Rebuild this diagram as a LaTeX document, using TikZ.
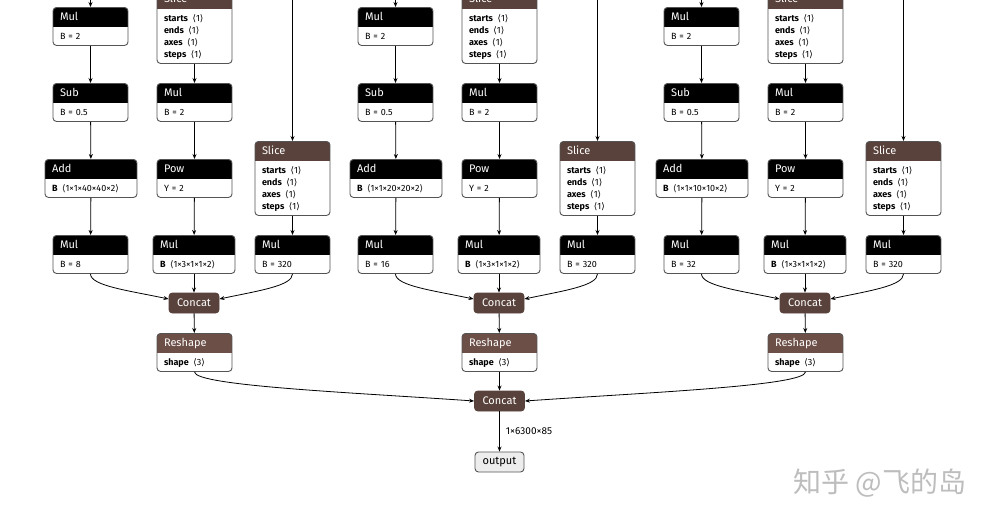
\documentclass[tikz,border=0pt]{standalone}
\usepackage{fontspec}
\setmainfont{Fira Sans}
\newfontfamily\symfont{DejaVu Sans}
\newfontfamily\cjkfont{Noto Sans CJK SC}
\usetikzlibrary{arrows.meta,positioning}
\definecolor{MyTensorBrown}{rgb}{0.349, 0.259, 0.231}
\definecolor{MyShapeBrown}{rgb}{0.424, 0.310, 0.278}
\definecolor{MyBorderGray}{rgb}{0.33, 0.33, 0.33}
\definecolor{MyOutputGray}{rgb}{0.93, 0.93, 0.93}
\definecolor{MyMarkGray}{rgb}{0.74, 0.74, 0.74}
\newcommand{\shp}[1]{\hspace{1.5pt}{\symfont ⟨}#1{\symfont ⟩}}
\newcommand{\hdr}[1]{\rule{0pt}{13pt}{\fontsize{11}{13}\selectfont\color{white}#1}\\[7pt]}
\newcommand{\lastln}{\rule[-6pt]{0pt}{6pt}}

\begin{document}
\begin{tikzpicture}[x=1pt, y=1pt, >={Stealth[length=5pt, width=4pt]},
		op/.style={draw=MyBorderGray, line width=0.9pt, rounded corners=3.5pt, fill=white,
			anchor=north, align=left, text width=61pt, inner xsep=7pt, inner ysep=0pt,
			font=\fontsize{9}{12}\selectfont,
			path picture={\fill[#1, sharp corners] (path picture bounding box.north west)
				rectangle ([yshift=-20pt]path picture bounding box.north east);}},
		op/.default=black,
		headonly/.style={draw=#1, fill=#1, text=white, line width=0.9pt, rounded corners=3.5pt,
			minimum width=50pt, minimum height=20pt, inner sep=0pt, font=\fontsize{11}{13}\selectfont},
		outbox/.style={draw=MyBorderGray, fill=MyOutputGray, line width=0.9pt, rounded corners=3.5pt,
			minimum width=49pt, minimum height=20pt, inner sep=0pt, font=\fontsize{11}{13}\selectfont},
		link/.style={->, line width=0.8pt, black}]
	\useasboundingbox (0,0) rectangle (999,-523);
	% one detection head per group
	\foreach \g/\dx/\grid/\stride in {1/0/40/8, 2/305/20/16, 3/611/10/32} {
		\coordinate (topA\g) at (90.5+\dx,2);
		\coordinate (topC\g) at (292.5+\dx,2);
		\node[op] (mulA\g) at (90.5+\dx,-7) {\hdr{Mul}B = 2\lastln};
		\node[op] (subA\g) at (90.5+\dx,-83) {\hdr{Sub}B = 0.5\lastln};
		\node[op, text width=78pt] (addA\g) at (91+\dx,-159) {\hdr{Add}\textbf{B} \shp{1×1×\grid×\grid×2}\lastln};
		\node[op] (mulD\g) at (90.5+\dx,-235) {\hdr{Mul}B = \stride\lastln};
		\node[op=MyTensorBrown] (sliceB\g) at (194.5+\dx,11) {\hdr{Slice}\textbf{starts} \shp{1}\\ \textbf{ends} \shp{1}\\ \textbf{axes} \shp{1}\\ \textbf{steps} \shp{1}\lastln};
		\node[op] (mulB\g) at (194.5+\dx,-83) {\hdr{Mul}B = 2\lastln};
		\node[op] (powB\g) at (194.5+\dx,-159) {\hdr{Pow}Y = 2\lastln};
		\node[op, text width=68pt] (mulE\g) at (194+\dx,-235) {\hdr{Mul}\textbf{B} \shp{1×3×1×1×2}\lastln};
		\node[op=MyTensorBrown] (sliceC\g) at (292.5+\dx,-141) {\hdr{Slice}\textbf{starts} \shp{1}\\ \textbf{ends} \shp{1}\\ \textbf{axes} \shp{1}\\ \textbf{steps} \shp{1}\lastln};
		\node[op] (mulF\g) at (292.5+\dx,-235) {\hdr{Mul}B = 320\lastln};
		\node[headonly=MyTensorBrown] (concat\g) at (194+\dx,-303) {Concat};
		\node[op=MyShapeBrown] (reshape\g) at (194.5+\dx,-333) {\hdr{Reshape}\textbf{shape} \shp{3}\lastln};
		\draw[link] (topA\g) -- (mulA\g);
		\draw[link] (mulA\g) -- (subA\g);
		\draw[link] (subA\g) -- (addA\g);
		\draw[link] (addA\g) -- (mulD\g);
		\draw[link] (sliceB\g) -- (mulB\g);
		\draw[link] (mulB\g) -- (powB\g);
		\draw[link] (powB\g) -- (mulE\g);
		\draw[link] (topC\g) -- (sliceC\g);
		\draw[link] (sliceC\g) -- (mulF\g);
		\draw[link] (mulD\g.south) to[out=-90, in=168, out distance=12pt, in distance=40pt] ([yshift=4pt]concat\g.west);
		\draw[link] (mulE\g) -- (concat\g);
		\draw[link] (mulF\g.south) to[out=-90, in=12, out distance=12pt, in distance=40pt] ([yshift=4pt]concat\g.east);
		\draw[link] (concat\g) -- (reshape\g);
	}
	\node[headonly=MyTensorBrown] (concatAll) at (499.5,-401) {Concat};
	\node[outbox] (output) at (499.5,-462) {output};
	\draw[link] (reshape1.south) to[out=-90, in=176, out distance=14pt, in distance=120pt] (concatAll.west);
	\draw[link] (reshape2) -- (concatAll);
	\draw[link] (reshape3.south) to[out=-90, in=4, out distance=14pt, in distance=120pt] (concatAll.east);
	\draw[link] (concatAll) -- node[midway, right=6pt, inner sep=0pt, font=\fontsize{10}{12}\selectfont] (outShape) {1×6300×85} (output);
	\node[font=\cjkfont\fontsize{28}{30}\selectfont, text=MyMarkGray] (mark) at (880,-483) {知乎 @飞的岛};
\end{tikzpicture}
\end{document}
